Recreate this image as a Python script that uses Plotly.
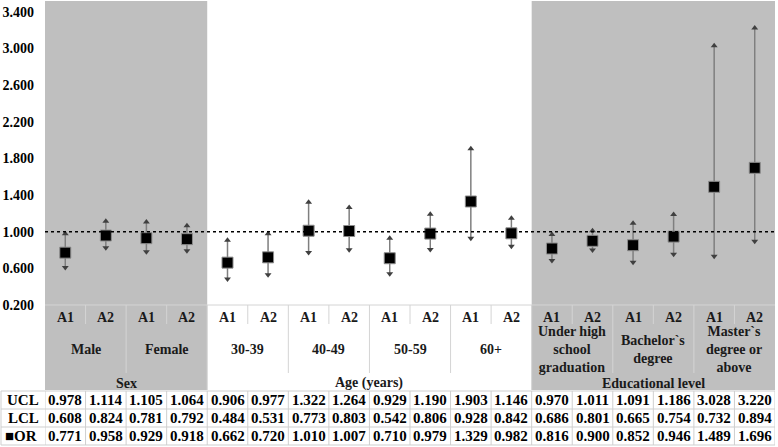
import plotly.graph_objects as go

# ---- data ----
sections = ["Sex", "Age (years)", "Educational level"]
section_group_counts = [2, 4, 3]
groups = ["Male", "Female", "30-39", "40-49", "50-59", "60+",
          "Under high<br>school<br>graduation", "Bachelor`s<br>degree",
          "Master`s<br>degree or<br>above"]
models = ["A1", "A2"]
UCL = [0.978, 1.114, 1.105, 1.064, 0.906, 0.977, 1.322, 1.264, 0.929, 1.190,
       1.903, 1.146, 0.970, 1.011, 1.091, 1.186, 3.028, 3.220]
LCL = [0.608, 0.824, 0.781, 0.792, 0.484, 0.531, 0.773, 0.803, 0.542, 0.806,
       0.928, 0.842, 0.686, 0.801, 0.665, 0.754, 0.732, 0.894]
OR = [0.771, 0.958, 0.929, 0.918, 0.662, 0.720, 1.010, 1.007, 0.710, 0.979,
      1.329, 0.982, 0.816, 0.900, 0.852, 0.946, 1.489, 1.696]
row_labels = ["UCL", "LCL", "■OR"]
y_ticks = [0.2, 0.6, 1.0, 1.4, 1.8, 2.2, 2.6, 3.0, 3.4]

# ---- layout geometry (pixels) ----
W, H = 778, 447
L, R, T, B = 45, 3, 1, 142
plot_top, plot_bot = T, H - B
plot_h = plot_bot - plot_top
plot_w = W - L - R


def py(p):
    return (plot_bot - p) / plot_h


def px(p):
    return (p - L) / plot_w


FONT = "Liberation Serif"
GRAY = "#BFBFBF"
n = len(OR)
xs = list(range(n))

fig = go.Figure()

# error bars
fig.add_trace(go.Scatter(
    x=xs, y=OR, mode="markers",
    marker=dict(size=1, color="rgba(0,0,0,0)"),
    error_y=dict(type="data", symmetric=False,
                 array=[u - o for u, o in zip(UCL, OR)],
                 arrayminus=[o - l for o, l in zip(OR, LCL)],
                 color="#7F7F7F", thickness=1.5, width=0),
    hoverinfo="skip", showlegend=False))
# arrowheads
fig.add_trace(go.Scatter(x=xs, y=UCL, mode="markers",
                         marker=dict(symbol="triangle-up", size=6, color="#404040"),
                         showlegend=False))
fig.add_trace(go.Scatter(x=xs, y=LCL, mode="markers",
                         marker=dict(symbol="triangle-down", size=6, color="#404040"),
                         showlegend=False))
# OR squares
fig.add_trace(go.Scatter(x=xs, y=OR, mode="markers", name="OR",
                         marker=dict(symbol="square", size=11, color="black",
                                     line=dict(color="#8C8C8C", width=1)),
                         showlegend=False))

shapes = []
annotations = []

# shaded sections (Sex and Educational level)
col = 0
sec_ranges = []
for si, cnt in enumerate(section_group_counts):
    start = col
    col += cnt * len(models)
    sec_ranges.append((start, col))
for si in (0, 2):
    a, b = sec_ranges[si]
    shapes.append(dict(type="rect", xref="x", yref="paper", x0=a - 0.5, x1=b - 0.5,
                       y0=py(390), y1=1, fillcolor=GRAY, line=dict(width=0), layer="below"))

# reference line at 1.0
shapes.append(dict(type="line", xref="paper", yref="y", x0=0, x1=1, y0=1, y1=1,
                   line=dict(color="black", width=1.5, dash="dot")))

SEP = "#D4D4D4"
# category axis baseline
shapes.append(dict(type="line", xref="paper", yref="paper", x0=0, x1=1, y0=0, y1=0,
                   line=dict(color=SEP, width=1)))
# category separators
sec_bounds = [b for _, b in sec_ranges[:-1]]
for i in range(1, n):
    if i in sec_bounds:
        y_end = 390
    elif i % 2 == 0:
        y_end = 373
    else:
        y_end = 324
    shapes.append(dict(type="line", xref="x", yref="paper", x0=i - 0.5, x1=i - 0.5,
                       y0=0, y1=py(y_end), line=dict(color=SEP, width=1)))

LBL = dict(family=FONT, size=14, color="#1A1A1A")
# A1 / A2 labels
for i in xs:
    annotations.append(dict(x=i, y=py(317), xref="x", yref="paper", text="<b>%s</b>" % models[i % 2],
                            showarrow=False, font=LBL, yanchor="middle"))
# group labels
for gi, g in enumerate(groups):
    annotations.append(dict(x=gi * 2 + 0.5, y=py(349), xref="x", yref="paper",
                            text="<b>%s</b>" % g, showarrow=False, font=LBL,
                            yanchor="middle", align="center"))
# section labels
for si, s in enumerate(sections):
    a, b = sec_ranges[si]
    annotations.append(dict(x=(a + b - 1) / 2, y=py(383), xref="x", yref="paper",
                            text="<b>%s</b>" % s, showarrow=False, font=LBL, yanchor="middle"))

# data table
TBL = "#CFCFCF"
row_lines = [391, 409, 427, 445]
for p in row_lines:
    shapes.append(dict(type="line", xref="paper", yref="paper", x0=px(1), x1=1,
                       y0=py(p), y1=py(p), line=dict(color=TBL, width=1)))
shapes.append(dict(type="line", xref="paper", yref="paper", x0=px(1), x1=px(1),
                   y0=py(row_lines[0]), y1=py(row_lines[-1]), line=dict(color=TBL, width=1)))
for i in range(n + 1):
    shapes.append(dict(type="line", xref="x", yref="paper", x0=i - 0.5, x1=i - 0.5,
                       y0=py(row_lines[0]), y1=py(row_lines[-1]), line=dict(color=TBL, width=1)))

TF = dict(family=FONT, size=15, color="black")
for ri, vals in enumerate([UCL, LCL, OR]):
    yc = py((row_lines[ri] + row_lines[ri + 1]) / 2)
    for i, v in enumerate(vals):
        annotations.append(dict(x=i, y=yc, xref="x", yref="paper", text="<b>%.3f</b>" % v,
                                showarrow=False, font=TF, yanchor="middle"))
    if ri < 2:
        annotations.append(dict(x=px(41), y=yc, xref="paper", yref="paper",
                                text="<b>%s</b>" % row_labels[ri], showarrow=False, font=TF,
                                xanchor="right", yanchor="middle"))
    else:
        annotations.append(dict(x=px(3), y=yc, xref="paper", yref="paper",
                                text="<b>%s</b>" % row_labels[ri], showarrow=False, font=TF,
                                xanchor="left", yanchor="middle"))

fig.update_layout(
    width=W, height=H,
    margin=dict(l=L, r=R, t=T, b=B, pad=0),
    paper_bgcolor="white", plot_bgcolor="white",
    showlegend=False,
    shapes=shapes, annotations=annotations,
    xaxis=dict(range=[-0.5, n - 0.5], showgrid=False, zeroline=False,
               showticklabels=False, showline=False, fixedrange=True),
    yaxis=dict(range=[0.2, 3.4 + (12 - plot_top) / (plot_h / 3.2)], tickvals=y_ticks,
               tickformat=".3f", showgrid=False, zeroline=False, showline=False,
               ticks="", ticklabelstandoff=10,
               tickfont=dict(family=FONT, size=14, color="black", weight="bold")),
)

fig.write_html("out.html", config={"displayModeBar": False},
               post_script="document.body.style.margin='0';document.body.style.overflow='hidden';")
